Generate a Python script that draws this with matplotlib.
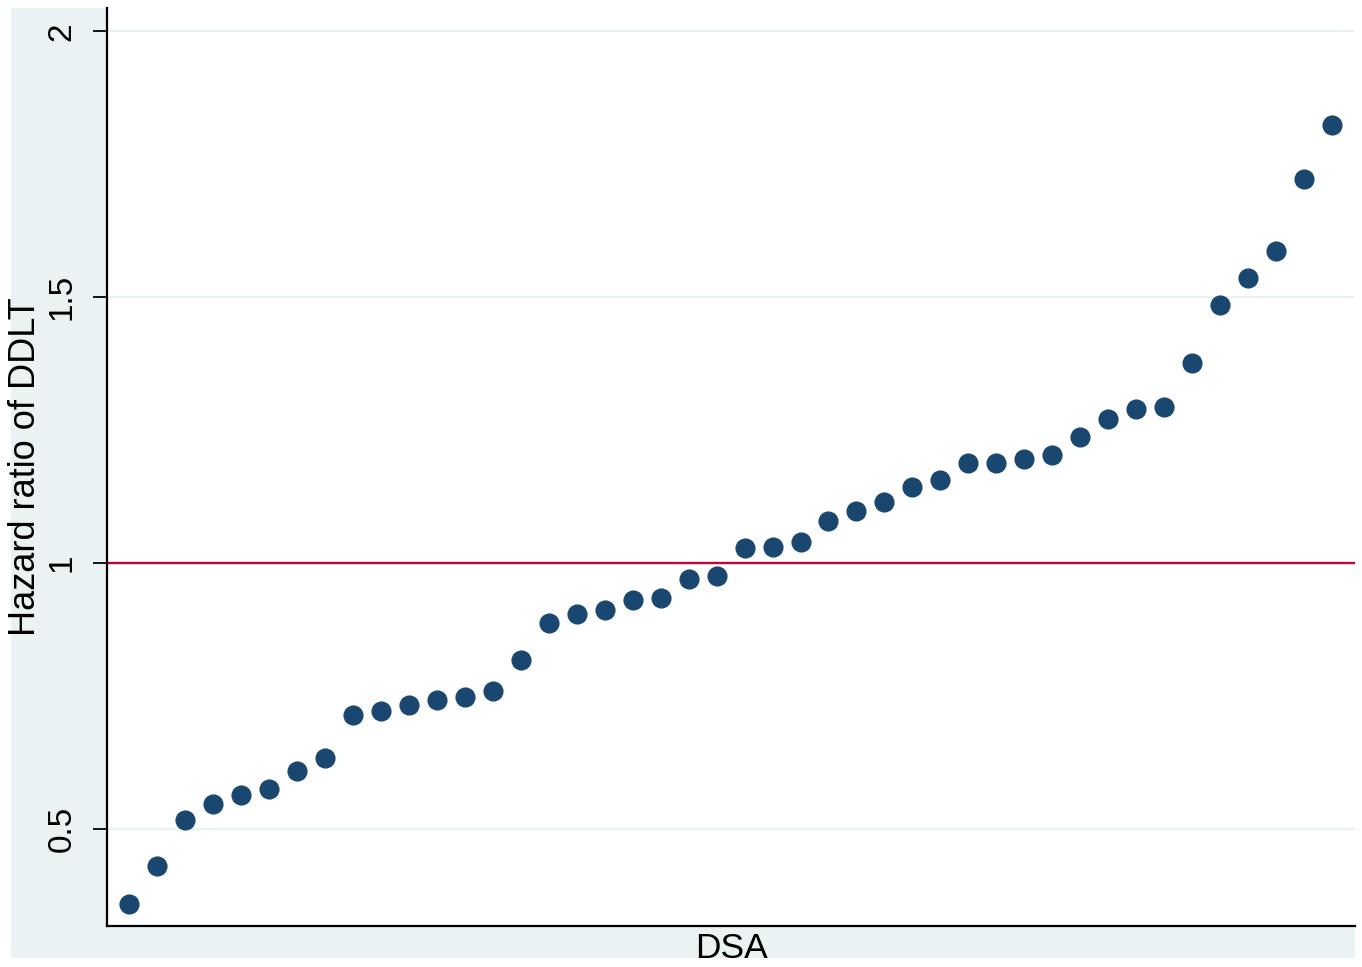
import numpy as np
import matplotlib.pyplot as plt
from matplotlib.patches import Rectangle

plt.rcParams['font.family'] = ['Liberation Sans', 'DejaVu Sans']

# hazard ratio of DDLT for each DSA, sorted
hazard_ratio = [0.358, 0.430, 0.516, 0.547, 0.563, 0.575, 0.609, 0.633,
                0.714, 0.722, 0.733, 0.742, 0.748, 0.759, 0.817, 0.887,
                0.904, 0.912, 0.930, 0.934, 0.970, 0.976, 1.028, 1.030,
                1.040, 1.079, 1.098, 1.115, 1.143, 1.156, 1.188, 1.188,
                1.196, 1.203, 1.237, 1.271, 1.290, 1.294, 1.376, 1.485,
                1.536, 1.587, 1.722, 1.824]
dsa_rank = np.arange(1, len(hazard_ratio) + 1)
y_ticks = [0.5, 1, 1.5, 2]
y_ticklabels = ['0.5', '1', '1.5', '2']

W, H = 1362, 967
fig = plt.figure(figsize=(W / 100, H / 100), dpi=100, facecolor='white')

# stata-style light background panel
bg = Rectangle((11 / W, 1 - 958 / H), (1355 - 11) / W, (958 - 8) / H,
               transform=fig.transFigure, facecolor='#eaf2f3',
               edgecolor='none', zorder=-10)
fig.add_artist(bg)

ax = fig.add_axes([107 / W, 1 - 926 / H, (1355 - 107) / W, (926 - 8) / H])
ax.set_facecolor('white')

ax.set_xlim(0.21, 44.82)
ax.set_ylim(0.317, 2.044)

for t in [0.5, 1.5, 2]:
    ax.axhline(t, color='#eaf2f3', lw=1.6, zorder=1)
ax.axhline(1, color='#c10534', lw=1.7, zorder=2)

ax.plot(dsa_rank, hazard_ratio, 'o', color='#1a476f', ms=13.5,
        mec='#1a476f', zorder=3)

for s in ['top', 'right']:
    ax.spines[s].set_visible(False)
for s in ['left', 'bottom']:
    ax.spines[s].set_linewidth(1.6)
    ax.spines[s].set_color('black')

ax.set_xticks([])
ax.set_yticks(y_ticks)
ax.set_yticklabels(y_ticklabels, rotation=90, va='center', fontsize=24)
ax.tick_params(axis='y', length=10, width=1.3, pad=11)

ax.set_ylabel('Hazard ratio of DDLT', fontsize=26, labelpad=3)
ax.set_xlabel('DSA', fontsize=25.5, labelpad=4)

# the frame is cut just below the x title
fig.add_artist(Rectangle((0, 0), 1, 1 - 958 / H, transform=fig.transFigure,
                         facecolor='white', edgecolor='none', zorder=20))

fig.savefig('out.png', dpi=100, facecolor='white')
